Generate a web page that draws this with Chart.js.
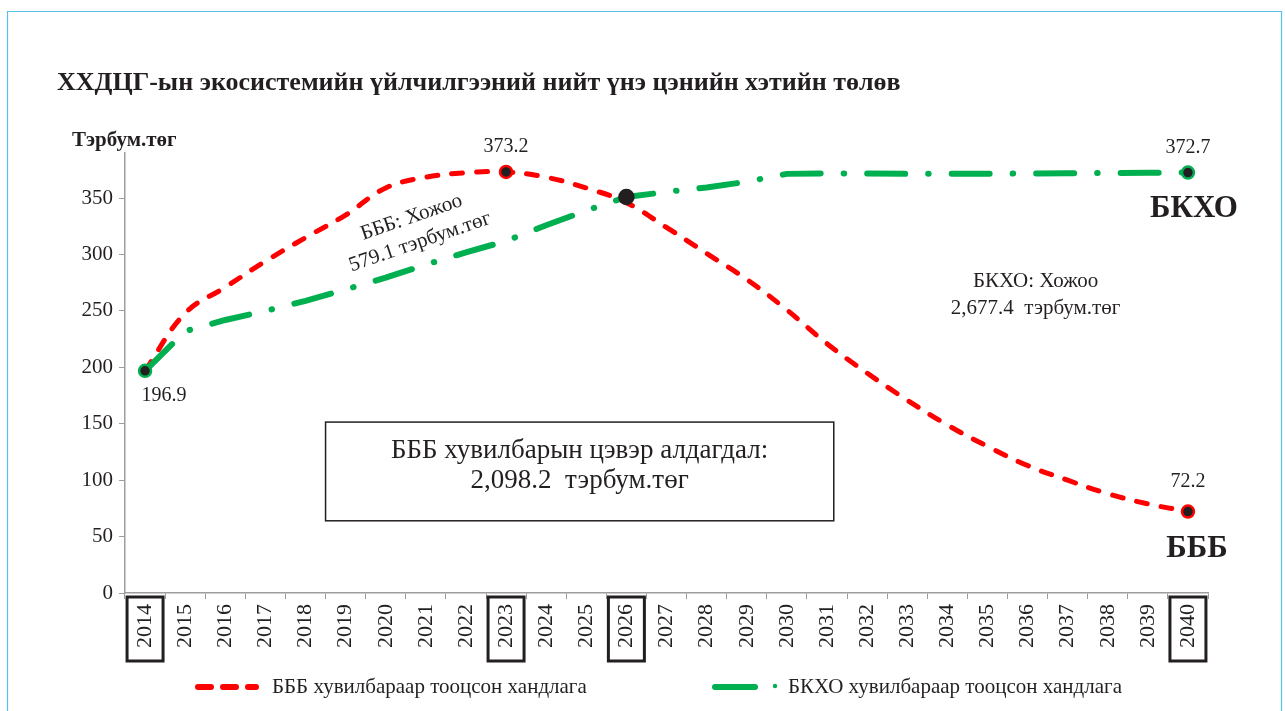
<!DOCTYPE html>
<html>
<head>
<meta charset="utf-8">
<script src="https://cdn.jsdelivr.net/npm/chart.js@4.4.0/dist/chart.umd.min.js"></script>
<style>
  html, body { margin: 0; padding: 0; background: #fff; }
  #wrap { width: 1285px; height: 711px; position: relative; }
</style>
</head>
<body>
<div id="wrap"><canvas id="chart" width="1285" height="711"></canvas></div>
<script>
const years = ['2014','2015','2016','2017','2018','2019','2020','2021','2022','2023','2024','2025','2026','2027',
  '2028','2029','2030','2031','2032','2033','2034','2035','2036','2037','2038','2039','2040'];
const bbbValues = [196.9, 248, 271, 294, 315, 335, 359, 368.5, 372.5, 373.2, 368.5, 359, 346, 324,
  301, 278, 251, 221, 195, 171, 149, 130, 113, 100, 88, 79, 72.2];
const bkhoValues = [196.9, 232, 242, 250, 259, 269, 279.5, 291, 302, 312, 326, 339, 351, 355.5,
  359.5, 364.5, 371.5, 372, 371.8, 371.5, 371.5, 371.6, 371.8, 372, 372.3, 372.5, 372.7];
const yTicks = [0, 50, 100, 150, 200, 250, 300, 350];
const boxedYears = ['2014', '2023', '2026', '2040'];

const chartTitle = 'ХХДЦГ-ын экосистемийн үйлчилгээний нийт үнэ цэнийн хэтийн төлөв';
const unitLabel = 'Тэрбум.төг';
const legendBbb = 'БББ хувилбараар тооцсон хандлага';
const legendBkho = 'БКХО хувилбараар тооцсон хандлага';

const RED = '#ff0000';
const GREEN = '#00b050';
const DOT = '#231f20';
const SERIF = '"Liberation Serif", "Times New Roman", serif';

const redRadius = years.map((y, i) => (i === 0 ? 5 : (y === '2023' || y === '2040') ? 6 : 0));
const greenRadius = years.map((y, i) => (i === 0 ? 6 : y === '2026' ? 7 : y === '2040' ? 6 : 0));
const greenBorder = years.map(y => (y === '2026' ? DOT : GREEN));

const extras = {
  id: 'extras',
  afterDraw(chart) {
    const ctx = chart.ctx;
    const x = chart.scales.x, y = chart.scales.y;
    ctx.save();

    // frame
    ctx.strokeStyle = '#5bbfe8';
    ctx.lineWidth = 1.2;
    ctx.beginPath();
    ctx.moveTo(7.5, 711); ctx.lineTo(7.5, 11.5); ctx.lineTo(1281.5, 11.5); ctx.lineTo(1281.5, 711);
    ctx.stroke();

    // title
    ctx.fillStyle = '#231f20';
    ctx.textBaseline = 'middle';
    ctx.textAlign = 'left';
    ctx.font = 'bold 26px ' + SERIF;
    ctx.fillText(chartTitle, 57, 83);
    ctx.font = 'bold 21px ' + SERIF;
    ctx.fillText(unitLabel, 72, 141);

    // boxes round highlighted year ticks
    ctx.strokeStyle = '#231f20';
    ctx.lineWidth = 3;
    boxedYears.forEach(yr => {
      const px = x.getPixelForValue(years.indexOf(yr));
      ctx.strokeRect(px - 18, x.top + 4, 36, 64);
    });

    // value labels
    ctx.font = '20px ' + SERIF;
    ctx.textAlign = 'center';
    const last = years.length - 1;
    ctx.fillText(String(bbbValues[0]), x.getPixelForValue(0) + 19, y.getPixelForValue(bbbValues[0]) + 25);
    ctx.fillText(String(bbbValues[9]), x.getPixelForValue(9), y.getPixelForValue(bbbValues[9]) - 25);
    ctx.fillText(String(bkhoValues[last]), x.getPixelForValue(last), y.getPixelForValue(bkhoValues[last]) - 25);
    ctx.fillText(String(bbbValues[last]), x.getPixelForValue(last), y.getPixelForValue(bbbValues[last]) - 30);

    ctx.font = 'bold 31px ' + SERIF;
    ctx.fillText('БКХО', x.getPixelForValue(last) + 6, y.getPixelForValue(bkhoValues[last]) + 36);
    ctx.fillText('БББ', x.getPixelForValue(last) + 9, y.getPixelForValue(bbbValues[last]) + 37);

    // gap notes
    ctx.font = '21px ' + SERIF;
    ctx.save();
    ctx.translate(x.getPixelForValue(6.75), y.getPixelForValue(322));
    ctx.rotate(-19 * Math.PI / 180);
    ctx.fillText('БББ: Хожоо', 0, -13);
    ctx.fillText('579.1 тэрбум.төг', 0, 13);
    ctx.restore();
    ctx.fillText('БКХО: Хожоо', x.getPixelForValue(22.2), y.getPixelForValue(276));
    ctx.fillText('2,677.4  тэрбум.төг', x.getPixelForValue(22.2), y.getPixelForValue(252.5));

    // loss box
    const bx0 = x.getPixelForValue(4.5), bx1 = x.getPixelForValue(17.17);
    const by0 = y.getPixelForValue(151.5), by1 = y.getPixelForValue(64);
    ctx.fillStyle = '#fff';
    ctx.fillRect(bx0, by0, bx1 - bx0, by1 - by0);
    ctx.strokeStyle = '#231f20';
    ctx.lineWidth = 1.5;
    ctx.strokeRect(bx0, by0, bx1 - bx0, by1 - by0);
    ctx.fillStyle = '#231f20';
    ctx.font = '27px ' + SERIF;
    ctx.fillText('БББ хувилбарын цэвэр алдагдал:', (bx0 + bx1) / 2, by0 + 29);
    ctx.fillText('2,098.2  тэрбум.төг', (bx0 + bx1) / 2, by0 + 59);

    // legend
    ctx.lineCap = 'round';
    ctx.lineWidth = 6;
    ctx.strokeStyle = RED;
    ctx.setLineDash([13, 12]);
    ctx.beginPath(); ctx.moveTo(198, 687); ctx.lineTo(256, 687); ctx.stroke();
    ctx.setLineDash([]);
    ctx.strokeStyle = GREEN;
    ctx.beginPath(); ctx.moveTo(715, 687); ctx.lineTo(755, 687); ctx.stroke();
    ctx.beginPath(); ctx.arc(775, 686, 2.2, 0, Math.PI * 2); ctx.fillStyle = GREEN; ctx.fill();
    ctx.fillStyle = '#231f20';
    ctx.textAlign = 'left';
    ctx.font = '21px ' + SERIF;
    ctx.fillText(legendBbb, 272, 687);
    ctx.fillText(legendBkho, 788, 687);

    ctx.restore();
  }
};

new Chart(document.getElementById('chart'), {
  type: 'line',
  data: {
    labels: years,
    datasets: [{
      label: legendBbb,
      data: bbbValues,
      borderColor: RED,
      borderWidth: 5,
      borderDash: [11, 14],
      borderCapStyle: 'round',
      tension: 0.4,
      pointRadius: redRadius,
      pointBackgroundColor: DOT,
      pointBorderColor: RED,
      pointBorderWidth: 2.5,
      order: 1
    }, {
      label: legendBkho,
      data: bkhoValues,
      borderColor: GREEN,
      borderWidth: 6,
      borderDash: [38, 23, 0.5, 23],
      borderCapStyle: 'round',
      tension: 0,
      pointRadius: greenRadius,
      pointBackgroundColor: DOT,
      pointBorderColor: greenBorder,
      pointBorderWidth: 2.5,
      order: 0
    }]
  },
  options: {
    responsive: false,
    animation: false,
    events: [],
    layout: { padding: { left: 0, top: 153, right: 77, bottom: 0 } },
    scales: {
      x: {
        offset: true,
        grid: { display: true, drawOnChartArea: false, drawTicks: true, tickLength: 6, offset: true, color: '#9d9d9d' },
        border: { color: '#9d9d9d', width: 1.5 },
        ticks: {
          autoSkip: false, minRotation: 90, maxRotation: 90, padding: 5,
          color: '#231f20', font: { family: SERIF, size: 22 }
        },
        afterFit(scale) { scale.height = 118; }
      },
      y: {
        min: 0,
        max: 390,
        afterBuildTicks(scale) { scale.ticks = yTicks.map(v => ({ value: v })); },
        grid: { display: true, drawOnChartArea: false, drawTicks: true, tickLength: 6, color: '#9d9d9d' },
        border: { color: '#9d9d9d', width: 1.5 },
        ticks: { padding: 6, color: '#231f20', font: { family: SERIF, size: 21 } },
        afterFit(scale) { scale.width = 125; }
      }
    },
    plugins: {
      legend: { display: false },
      title: { display: false },
      tooltip: { enabled: false }
    }
  },
  plugins: [extras]
});
</script>
</body>
</html>
